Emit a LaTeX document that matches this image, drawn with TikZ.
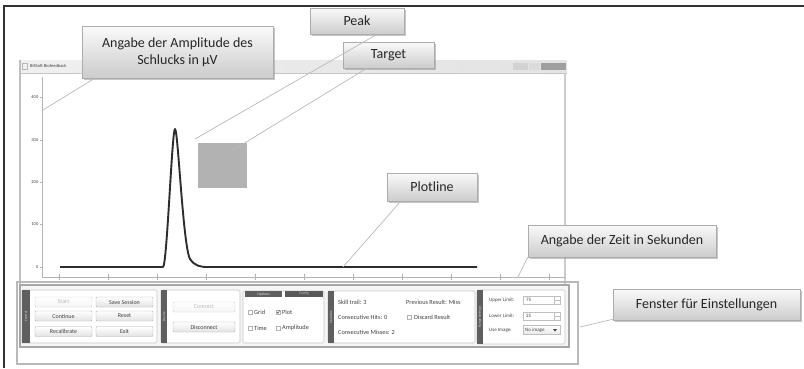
\documentclass[tikz,border=0pt]{standalone}
\usepackage{fontspec}
\setmainfont{Carlito}
\usetikzlibrary{shadows}
\definecolor{callfg}{RGB}{38,38,38}
\definecolor{uitext}{RGB}{65,65,65}
\definecolor{tabc}{RGB}{95,95,95}
\definecolor{targetc}{RGB}{178,178,178}
\definecolor{curvec}{RGB}{45,45,45}
\tikzset{
  callout/.style={draw=gray!65, line width=0.6pt, top color=gray!4, bottom color=gray!40,
    drop shadow={shadow xshift=1.6pt, shadow yshift=-1.6pt, opacity=0.45},
    text=callfg, font=\fontsize{14}{17}\selectfont, align=center, inner sep=0pt},
  conn/.style={draw=gray!55, line width=0.7pt},
  ui/.style={font=\fontsize{6.3}{7}\selectfont, text=uitext, inner sep=0pt},
  uis/.style={font=\fontsize{5}{6}\selectfont, text=uitext, inner sep=0pt},
  btn/.style={draw=gray!60, line width=0.4pt, top color=white, bottom color=gray!22, rounded corners=1pt,
    font=\fontsize{6}{7}\selectfont, text=uitext, inner sep=0pt, minimum height=10pt},
  btnoff/.style={btn, draw=gray!35, top color=white, bottom color=gray!8, text=gray!55},
  grpbox/.style={draw=gray!45, line width=0.6pt, fill=white, rounded corners=1.5pt},
  tabtxt/.style={font=\fontsize{3.5}{4}\selectfont, text=gray!30, inner sep=0pt, rotate=90},
  chk/.style={draw=gray!60, line width=0.4pt, fill=white},
  fieldbox/.style={draw=gray!50, line width=0.4pt, fill=white}
}
\begin{document}
\begin{tikzpicture}[x=1pt,y=-1pt]
\useasboundingbox (0,0) rectangle (804,368);
\fill[white] (0,0) rectangle (804,368);
% outer frame
\draw[line width=1.6pt, black!80] (4,368) -- (4,6) -- (804,6);

% ---------- window ----------
\shade[left color=gray!12, right color=gray!22] (20,60) rectangle (567,73);
\draw[gray!45, line width=0.5pt] (20,73) -- (567,73);
\draw[gray!55, line width=0.5pt] (22,63) rectangle (27,69);
\node[font=\fontsize{4.5}{5}\selectfont, text=uitext, inner sep=0pt, anchor=west] (title) at (30,66) {BiSSoft Biofeedback};
\fill[gray!35] (513,63) rectangle (528,70);
\fill[gray!28] (529,63) rectangle (540,70);
\fill[gray!75] (541,63) rectangle (566,70);
\draw[gray!50, line width=1.4pt] (20,60) -- (20,284);
\draw[gray!40, line width=2pt] (565,73) -- (565,292);

% axes
\draw[gray!60, line width=0.8pt] (42,77) -- (42,277) -- (565,277);
\foreach \v/\yy in {400/97,300/140,200/182,100/224,0/267}{
  \draw[gray!60, line width=0.5pt] (40,\yy) -- (42,\yy);
  \node[font=\fontsize{4.5}{5}\selectfont, text=uitext, inner sep=0pt, anchor=east] (yl\v) at (38.5,\yy) {\v};
}
\foreach \i in {0,...,10}{
  \draw[gray!60, line width=0.5pt] ({59+49*\i},274) -- ({59+49*\i},280);
}

% target square
\fill[targetc] (198,143) rectangle (247,188);

% plot curve
\draw[curvec, line width=1.9pt, line join=round]
  (60,267) -- (163,267)
  .. controls (167,266) and (172,129) .. (175,129)
  .. controls (178,129) and (183,246) .. (190,259)
  .. controls (195,266) and (200,267) .. (208,267)
  -- (477,267);

% ---------- settings panel ----------
\draw[gray!55, line width=1.2pt] (17,282) rectangle (578,364);
\draw[gray!70, line width=1.1pt, fill=gray!8] (20,285) rectangle (569,347);

% group 1
\draw[grpbox] (22,290) rectangle (157,343);
\fill[tabc] (22,290) rectangle (30,343);
\node[tabtxt] (t1) at (26,316.5) {Control};
\node[btnoff, minimum width=57pt] (bstart) at (63.5,302) {Start};
\node[btn, minimum width=57pt] (bsave) at (124.5,302) {Save Session};
\node[btn, minimum width=57pt] (bcont) at (63.5,316) {Continue};
\node[btn, minimum width=57pt] (breset) at (124.5,316) {Reset};
\node[btn, minimum width=57pt] (brecal) at (63.5,331.5) {Recalibrate};
\node[btn, minimum width=57pt] (bexit) at (124.5,331.5) {Exit};

% group 2
\draw[grpbox] (161,290) rectangle (240,343);
\fill[tabc] (161,290) rectangle (167,343);
\node[tabtxt] (t2) at (164,316.5) {Device};
\node[btnoff, minimum width=62pt] (bconn) at (204,307) {Connect};
\node[btn, minimum width=62pt] (bdisc) at (204,327) {Disconnect};

% group 3
\draw[grpbox] (243,291) rectangle (324,343);
\fill[tabc] (245,291) rectangle (282,297);
\fill[gray!70!black] (285,291) rectangle (323,297);
\node[font=\fontsize{3.8}{4}\selectfont, text=gray!25, inner sep=0pt] (opt) at (263.5,294) {Options};
\node[font=\fontsize{3.8}{4}\selectfont, text=gray!45, inner sep=0pt] (cfg) at (304,294) {Config};
\draw[chk] (248,310) rectangle (252,314);
\node[ui, anchor=west] (grid) at (254,312) {Grid};
\draw[chk] (276,310) rectangle (280,314);
\draw[uitext, line width=0.4pt] (276.8,312) -- (278,313.3) -- (279.6,310.4);
\node[ui, anchor=west] (plotc) at (282,312) {Plot};
\draw[chk] (248,326) rectangle (252,330);
\node[ui, anchor=west] (time) at (254,328) {Time};
\draw[chk] (276,326) rectangle (280,330);
\node[ui, anchor=west] (ampc) at (282,328) {Amplitude};

% group 4
\draw[grpbox] (328,291) rectangle (475,343);
\fill[tabc] (328,291) rectangle (334,343);
\node[tabtxt] (t4) at (331,317) {Statistics};
\node[ui, anchor=west] (skill) at (338,302) {Skill trail: 3};
\node[ui, anchor=west] (prev) at (406,302) {Previous Result: Miss};
\node[ui, anchor=west] (hits) at (338,317) {Consecutive Hits: 0};
\draw[chk] (407,315) rectangle (411,319);
\node[ui, anchor=west] (disc) at (414,317) {Discard Result};
\node[ui, anchor=west] (miss) at (338,332) {Consecutive Misses: 2};

% group 5
\draw[grpbox] (477,290) rectangle (565,344);
\fill[tabc] (477,290) rectangle (483,344);
\node[tabtxt] (t5) at (480,317) {Range Settings};
\node[uis, anchor=west] (upper) at (489,300) {Upper Limit:};
\draw[fieldbox] (523,296) rectangle (560,304);
\draw[gray!50, line width=0.3pt] (554,296) -- (554,304) (554,300) -- (560,300);
\node[uis, anchor=west] (uv) at (526,300) {75};
\node[uis, anchor=west] (lower) at (489,316) {Lower Limit:};
\draw[fieldbox] (523,312) rectangle (560,320);
\draw[gray!50, line width=0.3pt] (554,312) -- (554,320) (554,316) -- (560,316);
\node[uis, anchor=west] (lv) at (526,316) {25};
\node[uis, anchor=west] (useimg) at (489,330) {Use Image:};
\draw[fieldbox, top color=white, bottom color=gray!18] (523,325.5) rectangle (560,334.5);
\node[uis, anchor=west] (noimg) at (525,330) {No image};
\fill[uitext] (553,329) -- (557,329) -- (555,331.5) -- cycle;

% ---------- connectors ----------
\coordinate (ampend) at (43,110);
\coordinate (peakend) at (195,139);
\coordinate (targend) at (230,152);
\coordinate (plotend) at (343,267);
\coordinate (zeitend) at (518,277);
\coordinate (fensend) at (580,327);

% ---------- callouts ----------
\node[callout, minimum width=191pt, minimum height=52pt] (amp) at (177.5,52)
  {Angabe der Amplitude des\\Schlucks in µV};
\node[callout, minimum width=94pt, minimum height=26pt] (peak) at (357,21) {Peak};
\node[callout, minimum width=91pt, minimum height=26pt] (target) at (388.5,55) {Target};
\node[callout, minimum width=90pt, minimum height=28pt] (plotl) at (432,187) {Plotline};
\node[callout, minimum width=188pt, minimum height=32pt] (zeit) at (622,241) {Angabe der Zeit in Sekunden};
\node[callout, minimum width=187pt, minimum height=31pt] (fenster) at (706.5,304.5) {Fenster für Einstellungen};

\draw[conn] ([xshift=13pt]amp.south west) -- (ampend);
\draw[conn] ([xshift=20pt]peak.south) -- (peakend);
\draw[conn] ([xshift=24pt]target.south west) -- (targend);
\draw[conn] ([xshift=14pt]plotl.south west) -- (plotend);
\draw[conn] (zeit.south west) -- (zeitend);
\draw[conn] ([yshift=1pt]fenster.south west) -- (fensend);
\end{tikzpicture}
\end{document}
